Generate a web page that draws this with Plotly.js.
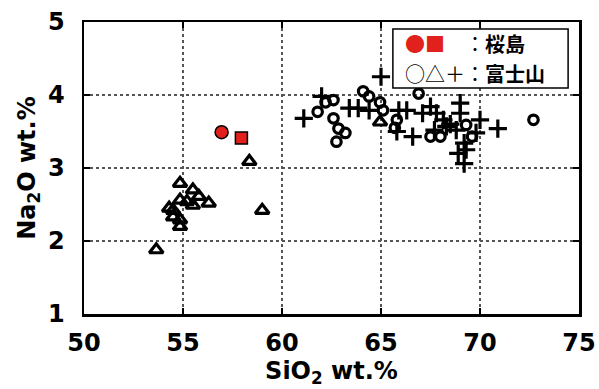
<!DOCTYPE html>
<html>
<head>
<meta charset="utf-8">
<script src="https://cdn.plot.ly/plotly-3.0.1.min.js"></script>
<style>html,body{margin:0;padding:0;background:#fff;}#chart{width:599px;height:389px;}</style>
</head>
<body>
<div id="chart"></div>
<script>
// Sakurajima
const sakuraCircleX = [56.95];
const sakuraCircleY = [3.49];
const sakuraSquareX = [57.95];
const sakuraSquareY = [3.41];

// Fuji - circles
const fujiCircleX = [62.2, 62.6, 61.8, 62.6, 62.85, 63.2, 62.75, 64.1, 64.4, 64.95, 65.1, 65.8, 66.9, 72.7, 67.5, 68.0, 69.3, 69.6, 65.7];
const fujiCircleY = [3.90, 3.93, 3.77, 3.68, 3.54, 3.48, 3.36, 4.05, 3.98, 3.90, 3.79, 3.66, 4.02, 3.66, 3.43, 3.43, 3.59, 3.43, 3.55];

// Fuji - triangles
const fujiTriX = [53.65, 54.3, 54.5, 54.5, 54.85, 54.85, 54.85, 54.85, 55.2, 55.5, 55.5, 55.8, 56.3, 58.35, 59.0, 64.95];
const fujiTriY = [1.88, 2.45, 2.42, 2.33, 2.79, 2.56, 2.29, 2.20, 2.54, 2.70, 2.49, 2.61, 2.52, 3.09, 2.42, 3.63];

// Fuji - crosses
const fujiPlusX = [61.1, 62.0, 63.4, 63.85, 64.4, 65.0, 65.9, 65.8, 66.3, 66.6, 67.1, 67.5, 67.8, 68.15, 68.3, 67.7, 68.8, 69.0, 69.0, 69.2, 69.3, 69.2, 69.8, 70.0, 70.9, 68.5, 68.9];
const fujiPlusY = [3.68, 3.98, 3.82, 3.82, 3.79, 4.25, 3.79, 3.50, 3.79, 3.43, 3.75, 3.84, 3.75, 3.66, 3.57, 3.52, 3.52, 3.89, 3.75, 3.34, 3.25, 3.06, 3.48, 3.66, 3.54, 3.60, 3.20];

const xTicks = [50, 55, 60, 65, 70, 75];
const yTicks = [1, 2, 3, 4, 5];

const legendRows = ['桜島', '富士山'];

const red = '#e3211c';

const traces = [
  {x: fujiTriX, y: fujiTriY, type: 'scatter', mode: 'markers', name: '富士山 △', showlegend: false,
   marker: {symbol: 'triangle-up-open', size: 12, color: 'black', line: {width: 3.2, color: 'black'}}},
  {x: fujiCircleX, y: fujiCircleY, type: 'scatter', mode: 'markers', name: '富士山 ○', showlegend: false,
   marker: {symbol: 'circle-open', size: 9.5, color: 'black', line: {width: 3.2, color: 'black'}}},
  {x: fujiPlusX, y: fujiPlusY, type: 'scatter', mode: 'markers', name: '富士山 ＋', showlegend: false,
   marker: {symbol: 'cross-thin-open', size: 13, color: 'black', line: {width: 3.2, color: 'black'}}},
  {x: sakuraCircleX, y: sakuraCircleY, type: 'scatter', mode: 'markers', name: '桜島 ●', showlegend: false,
   marker: {symbol: 'circle', size: 13, color: red, line: {width: 1.5, color: 'black'}}},
  {x: sakuraSquareX, y: sakuraSquareY, type: 'scatter', mode: 'markers', name: '桜島 ■', showlegend: false,
   marker: {symbol: 'square', size: 12, color: red, line: {width: 1.5, color: 'black'}}}
];

const axisFont = {family: 'DejaVu Sans', size: 24, color: 'black', weight: 'bold'};
const titleFont = {family: 'DejaVu Sans', size: 24, color: 'black', weight: 'bold'};
const legFont = {family: 'Noto Sans CJK JP', size: 20, color: 'black'};

const layout = {
  width: 599, height: 389,
  margin: {l: 84, r: 20, t: 22, b: 75},
  paper_bgcolor: 'white', plot_bgcolor: 'white',
  showlegend: false,
  xaxis: {
    range: [50, 75], tickvals: xTicks, ticktext: xTicks.map(String),
    ticks: 'inside', ticklen: 6, tickwidth: 2, tickcolor: 'black',
    showline: true, linewidth: 2.5, linecolor: 'black', mirror: 'ticks',
    showgrid: true, gridcolor: '#555', griddash: 'dot', gridwidth: 1.5,
    zeroline: false, tickfont: axisFont, ticklabelstandoff: 6,
    title: {text: 'SiO<sub>2</sub> wt.%', font: titleFont, standoff: 4}
  },
  yaxis: {
    range: [1, 5], tickvals: yTicks, ticktext: yTicks.map(String),
    ticks: 'inside', ticklen: 6, tickwidth: 2, tickcolor: 'black',
    showline: true, linewidth: 2.5, linecolor: 'black', mirror: 'ticks',
    showgrid: true, gridcolor: '#555', griddash: 'dot', gridwidth: 1.5,
    zeroline: false, tickfont: axisFont, ticklabelstandoff: 12,
    title: {text: 'Na<sub>2</sub>O wt.%', font: titleFont, standoff: 6}
  },
  shapes: [{
    type: 'rect', xref: 'paper', yref: 'paper', x0: 0.624, x1: 0.978, y0: 0.774, y1: 0.976,
    fillcolor: 'white', line: {color: 'black', width: 1.5}, layer: 'above'
  }],
  annotations: [
    {xref: 'paper', yref: 'paper', x: 0.644, y: 0.925, xanchor: 'left', yanchor: 'middle',
     showarrow: false, align: 'left', font: legFont,
     text: '<span style="color:' + red + '">●■</span>　：<b>' + legendRows[0] + '</b>'},
    {xref: 'paper', yref: 'paper', x: 0.644, y: 0.822, xanchor: 'left', yanchor: 'middle',
     showarrow: false, align: 'left', font: legFont,
     text: '○△＋：<b>' + legendRows[1] + '</b>'}
  ]
};

Plotly.newPlot('chart', traces, layout, {staticPlot: true, displayModeBar: false});
</script>
</body>
</html>
